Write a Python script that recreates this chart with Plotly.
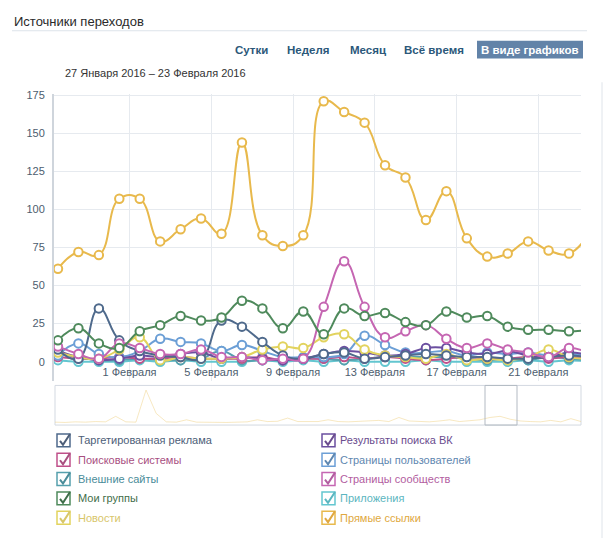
import plotly.graph_objects as go

W, H = 604, 538
FONT = "Liberation Sans"

# ---------------- data ----------------
dates = ["2016-01-%02d 12:00" % d for d in (28, 29, 30, 31)] + \
        ["2016-02-%02d 12:00" % d for d in range(1, 24)]

tick_dates = ["2016-02-01", "2016-02-05", "2016-02-09", "2016-02-13", "2016-02-17", "2016-02-21"]
tick_labels = ["1 Февраля", "5 Февраля", "9 Февраля", "13 Февраля", "17 Февраля", "21 Февраля"]
y_ticks = [0, 25, 50, 75, 100, 125, 150, 175]

targeted  = [8, 2, 35, 14, 7, 4, 3, 2, 27, 23, 13, 4, 2, 5, 6, 2, 3, 4, 5, 4, 3, 3, 2, 2, 3, 4, 3]
search    = [3, 2, 2, 3, 2, 2, 3, 2, 2, 2, 3, 1, 2, 2, 3, 2, 3, 2, 1, 2, 3, 2, 2, 3, 2, 3, 2]
external  = [5, 3, 1, 1, 2, 1, 1, 2, 7, 1, 1, 1, 2, 2, 1, 2, 3, 3, 3, 3, 2, 1, 2, 1, 3, 2, 1]
groups    = [14, 22, 12, 9, 20, 24, 30, 27, 29, 40, 35, 22, 33, 18, 35, 30, 32, 26, 24, 33, 29, 30, 23, 21, 21, 20, 21]
news      = [6, 3, 2, 8, 16, 1, 3, 2, 2, 3, 8, 10, 9, 16, 18, 8, 4, 3, 2, 5, 1, 2, 1, 3, 8, 3, 2]
vksearch  = [7, 3, 1, 2, 4, 3, 5, 6, 2, 3, 2, 1, 2, 5, 7, 6, 4, 5, 9, 9, 6, 5, 7, 4, 3, 6, 4]
users     = [4, 12, 5, 3, 7, 15, 13, 12, 7, 11, 7, 3, 3, 3, 5, 17, 11, 6, 6, 7, 4, 6, 5, 6, 4, 5, 4]
community = [10, 5, 2, 12, 9, 5, 5, 8, 3, 3, 1, 2, 2, 36, 66, 36, 16, 20, 24, 15, 9, 12, 8, 6, 3, 9, 5]
apps      = [1, 0, 0, 0, 1, 0, 1, 0, 0, 0, 1, 0, 1, 0, 1, 0, 0, 0, 1, 0, 0, 0, 0, 1, 0, 1, 0]
direct    = [61, 72, 70, 107, 107, 79, 87, 94, 84, 144, 83, 76, 83, 171, 164, 157, 129, 121, 93, 112, 81, 69, 71, 79, 73, 71, 85]

# navigator (whole history, "Прямые ссылки")
nav_values = [50, 45, 55, 50, 60, 55, 150, 55, 50, 600, 200, 55, 50, 90, 50, 45, 50, 45, 50, 55,
              90, 60, 65, 120, 60, 55, 60, 90, 60, 55, 60, 65, 80, 60, 130, 70, 60, 55, 70, 90,
              60, 70, 90, 130, 150, 100, 70, 60, 55, 80, 55, 110, 60]

names = ["Таргетированная реклама", "Поисковые системы", "Внешние сайты", "Мои группы", "Новости",
         "Результаты поиска ВК", "Страницы пользователей", "Страницы сообществ", "Приложения", "Прямые ссылки"]
values = [targeted, search, external, groups, news, vksearch, users, community, apps, direct]
line_colors = ["#4f6a8c", "#c0508a", "#55a0ad", "#4f8a5c", "#e2d35e",
               "#6b4fa0", "#6c9fd6", "#c566b2", "#63c6d0", "#e8b94c"]
label_colors = ["#4d5e78", "#a84f7f", "#4a8c99", "#3f6e4a", "#d8c66a",
                "#6a4c8e", "#5f87b0", "#b25da0", "#5bb6c0", "#e0a840"]
draw_order = [8, 2, 1, 6, 5, 4, 0, 7, 3, 9]

# ---------------- helpers (pixel -> paper) ----------------
def X(px):
    return px / W

def Y(py):
    return 1 - py / H

plot_l, plot_r, plot_t, plot_b = 54, 581, 90, 380
nav_t, nav_b = 384, 424

fig = go.Figure()

for i in draw_order:
    fig.add_trace(go.Scatter(
        x=dates, y=values[i], name=names[i], mode="lines+markers",
        line=dict(color=line_colors[i], width=2, shape="spline", smoothing=1.3),
        marker=dict(symbol="circle", size=8.5, color="white",
                    line=dict(color=line_colors[i], width=2)),
        showlegend=False, hoverinfo="x+y+name"))

fig.add_trace(go.Scatter(
    x=list(range(len(nav_values))), y=nav_values, mode="lines",
    line=dict(color="rgba(238,205,120,0.45)", width=1),
    xaxis="x2", yaxis="y2", showlegend=False, hoverinfo="skip"))

shapes = []
annotations = []

# title and underline
annotations.append(dict(text="Источники переходов", x=X(12), y=Y(17), xref="paper", yref="paper",
                        xanchor="left", yanchor="middle", showarrow=False,
                        font=dict(family=FONT, size=13, color="#2a2a2a")))
shapes.append(dict(type="line", xref="paper", yref="paper", x0=X(12), x1=X(587), y0=Y(26), y1=Y(26),
                   line=dict(color="#dde3ea", width=1)))

# buttons
buttons = [("Сутки", 251), ("Неделя", 308), ("Месяц", 368), ("Всё время", 434)]
for txt, cx in buttons:
    annotations.append(dict(text=txt, x=X(cx), y=Y(45), xref="paper", yref="paper",
                            xanchor="center", yanchor="middle", showarrow=False,
                            font=dict(family=FONT, size=11.5, color="#2b587a", weight="bold")))
shapes.append(dict(type="rect", xref="paper", yref="paper", x0=X(477), x1=X(583), y0=Y(54), y1=Y(36),
                   fillcolor="#6283a8", line=dict(width=0)))
annotations.append(dict(text="В виде графиков", x=X(530), y=Y(45), xref="paper", yref="paper",
                        xanchor="center", yanchor="middle", showarrow=False,
                        font=dict(family=FONT, size=11.5, color="white", weight="bold")))

# date range
annotations.append(dict(text="27 Января 2016 – 23 Февраля 2016", x=X(63), y=Y(69), xref="paper", yref="paper",
                        xanchor="left", yanchor="middle", showarrow=False,
                        font=dict(family=FONT, size=11, color="#333333")))

# right border
shapes.append(dict(type="line", xref="paper", yref="paper", x0=X(602), x1=X(602), y0=Y(78), y1=Y(538),
                   line=dict(color="#dfe4ea", width=1)))

# navigator frame and window
shapes.append(dict(type="rect", xref="paper", yref="paper", x0=X(55), x1=X(581), y0=Y(nav_b), y1=Y(nav_t),
                   line=dict(color="#d3d9e1", width=1), fillcolor="rgba(0,0,0,0)", layer="below"))
shapes.append(dict(type="rect", xref="paper", yref="paper", x0=X(485), x1=X(517), y0=Y(nav_b), y1=Y(nav_t),
                   line=dict(color="#b3bac3", width=1), fillcolor="rgba(0,0,0,0)"))

# legend with checkboxes
rows = [439.5, 459, 478.5, 498, 517.5]
cols = [(57, 76), (322, 338)]
for k in range(10):
    c, r = divmod(k, 5)
    bx, tx = cols[c]
    cy = rows[r]
    shapes.append(dict(type="rect", xref="paper", yref="paper",
                       x0=X(bx), x1=X(bx + 13), y0=Y(cy + 6.5), y1=Y(cy - 6.5),
                       line=dict(color=line_colors[k], width=1.5), fillcolor="white"))
    path = "M %f %f L %f %f L %f %f" % (X(bx + 3), Y(cy + 0.5), X(bx + 6), Y(cy + 4.5),
                                        X(bx + 13), Y(cy - 6.5))
    shapes.append(dict(type="path", xref="paper", yref="paper", path=path,
                       line=dict(color=label_colors[k], width=2)))
    annotations.append(dict(text=names[k], x=X(tx), y=Y(cy), xref="paper", yref="paper",
                            xanchor="left", yanchor="middle", showarrow=False,
                            font=dict(family=FONT, size=11, color=label_colors[k])))

fig.update_layout(
    width=W, height=H, margin=dict(l=0, r=0, t=0, b=0),
    paper_bgcolor="white", plot_bgcolor="white",
    font=dict(family=FONT, size=11, color="#556677"),
    shapes=shapes, annotations=annotations,
    xaxis=dict(domain=[X(plot_l), X(plot_r)], type="date",
               range=["2016-01-28 07:20", "2016-02-23 02:05"],
               tickvals=tick_dates, ticktext=tick_labels,
               ticklabelposition="inside", ticks="", showline=False,
               showgrid=True, gridcolor="#e6eaef", gridwidth=1, zeroline=False,
               tickfont=dict(family=FONT, size=11, color="#4d5d6e"), fixedrange=True),
    yaxis=dict(domain=[Y(plot_b), Y(plot_t)], range=[-13, 175.7],
               tickvals=y_ticks, ticks="", ticklabelstandoff=5,
               showline=True, linecolor="#cfd5dc", linewidth=2,
               showgrid=True, gridcolor="#e6eaef", gridwidth=1, zeroline=False,
               tickfont=dict(family=FONT, size=11, color="#4d5d6e"), fixedrange=True),
    xaxis2=dict(domain=[X(55), X(581)], range=[0, len(nav_values) - 1], visible=False,
                anchor="y2", fixedrange=True),
    yaxis2=dict(domain=[Y(nav_b), Y(nav_t)], range=[0, 680], visible=False,
                anchor="x2", fixedrange=True),
)

fig.write_html("out.html", config={"displayModeBar": False},
               post_script="document.body.style.margin='0';document.body.style.overflow='hidden';")
